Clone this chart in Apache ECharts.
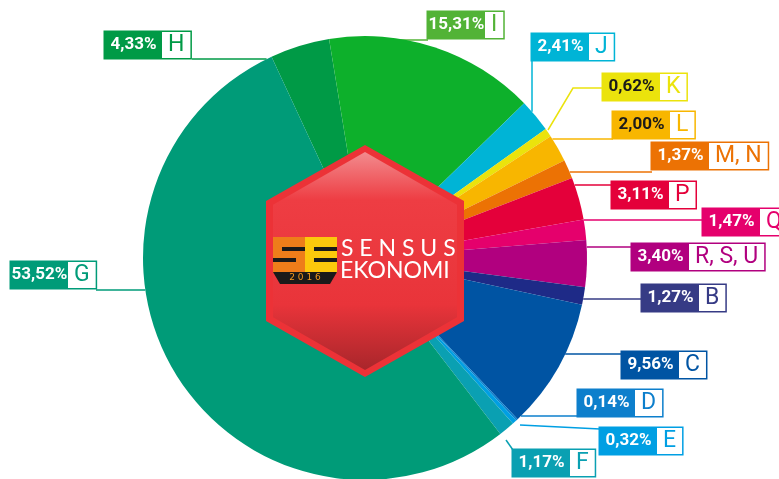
<!DOCTYPE html>
<html>
<head>
<meta charset="utf-8">
<title>Sensus Ekonomi 2016</title>
<script src="https://cdn.jsdelivr.net/npm/echarts@6/dist/echarts.min.js"></script>
<style>
  html, body { margin: 0; padding: 0; background: #fff; }
  #chart { width: 779px; height: 479px; }
</style>
</head>
<body>
<div id="chart"></div>
<script>
// kategori lapangan usaha, searah jarum jam mulai dari H
const categories = ['H', 'I', 'J', 'K', 'L', 'M, N', 'P', 'Q', 'R, S, U', 'B', 'C', 'D', 'E', 'F', 'G']
const shares = [4.33, 15.31, 2.41, 0.62, 2.00, 1.37, 3.11, 1.47, 3.40, 1.27, 9.56, 0.14, 0.32, 1.17, 53.52]

const sliceColors = ['#009a46', '#0db02b', '#00b4d6', '#ebe30c', '#f8b600', '#ec7204', '#e4003a', '#e5006c',
  '#b1007f', '#1e2a87', '#0054a3', '#0d7fcc', '#009fe3', '#0aa0b2', '#009b78']
const boxColors = ['#009a46', '#52b336', '#00b4d6', '#ebe30c', '#f8b600', '#ec7204', '#e4003a', '#e5006c',
  '#b1007f', '#363b85', '#0054a3', '#0d7fcc', '#009fe3', '#0aa0b2', '#009b78']
const darkText = ['K', 'L']

const FONT = 'Roboto, "Noto Sans", sans-serif'
const CX = 365
const CY = 258
const R = 222

// posisi kotak label dan garis penunjuknya
const labelPlaces = [
  { x: 105, y: 32, line: [[192, 59]], to: 'h' },
  { x: 428, y: 12, line: [[428, 40]], to: [338, 40] },
  { x: 532, y: 34, line: [[532, 61]], to: 'v' },
  { x: 603, y: 74, line: [[603, 88], [573, 88]], to: [548, 130] },
  { x: 613, y: 112, line: [[613, 139]], to: 'h' },
  { x: 652, y: 143, line: [[652, 172]], to: 'h' },
  { x: 612, y: 182, line: [[612, 185]], to: 'h' },
  { x: 703, y: 209, line: [[703, 220]], to: 'h' },
  { x: 632, y: 244, line: [[632, 247]], to: 'h' },
  { x: 642, y: 285, line: [[642, 299]], to: 'h' },
  { x: 622, y: 352, line: [[622, 354]], to: 'h' },
  { x: 578, y: 390, line: [[578, 416]], to: 'h' },
  { x: 600, y: 428, line: [[600, 429]], to: [520, 425] },
  { x: 513, y: 450, line: [[513, 450]], to: [506, 440] },
  { x: 11, y: 262, line: [[96, 290]], to: 'h' }
]

function fmt (v) {
  return v.toFixed(2).replace('.', ',') + '%'
}

const seriesData = categories.map(function (name, i) {
  const c = sliceColors[i]
  const b = boxColors[i]
  return {
    name: name,
    value: shares[i],
    itemStyle: { color: c },
    labelLine: { lineStyle: { color: b } },
    label: {
      borderColor: b,
      rich: {
        p: {
          width: 57,
          height: 26,
          lineHeight: 26,
          align: 'center',
          backgroundColor: b,
          color: darkText.indexOf(name) >= 0 ? '#1a1a1a' : '#fff',
          fontFamily: FONT,
          fontWeight: 'bold',
          fontSize: 17
        },
        l: {
          height: 26,
          lineHeight: 26,
          padding: [0, 6, 0, 6],
          color: b,
          fontFamily: FONT,
          fontSize: 23
        }
      }
    }
  }
})

function hexagon (inset) {
  return [[CX, 145 + inset], [464 - inset, 201 + inset * 0.55], [464 - inset, 321 - inset * 0.55],
    [CX, 377 - inset], [266 + inset, 321 - inset * 0.55], [266 + inset, 201 + inset * 0.55]]
}

const chart = echarts.init(document.getElementById('chart'))

const option = {
  backgroundColor: '#fff',
  animation: false,
  series: [
    {
      type: 'pie',
      center: [CX, CY],
      radius: [0, R],
      startAngle: 114.9,
      clockwise: true,
      avoidLabelOverlap: false,
      data: seriesData,
      label: {
        show: true,
        position: 'outside',
        formatter: function (p) {
          return '{p|' + fmt(p.value) + '}{l|' + p.name + '}'
        },
        backgroundColor: '#fff',
        borderWidth: 1.5,
        padding: 0
      },
      labelLine: {
        show: true,
        length: 10,
        length2: 10,
        lineStyle: { width: 1.5 }
      },
      emphasis: { disabled: true },
      labelLayout: function (params) {
        const place = labelPlaces[params.dataIndex]
        const pts = place.line.map(function (p) { return p.slice() })
        const last = pts[pts.length - 1]
        if (place.to === 'h') {
          const dx = Math.sqrt(R * R - Math.pow(last[1] - CY, 2))
          pts.push([last[0] < CX ? CX - dx : CX + dx, last[1]])
        } else if (place.to === 'v') {
          const dy = Math.sqrt(R * R - Math.pow(last[0] - CX, 2))
          pts.push([last[0], last[1] < CY ? CY - dy : CY + dy])
        } else {
          pts.push(place.to)
        }
        return {
          x: place.x,
          y: place.y,
          align: 'left',
          verticalAlign: 'top',
          labelLinePoints: pts
        }
      }
    }
  ],
  graphic: [
    {
      type: 'polygon',
      z: 100,
      shape: { points: hexagon(0) },
      style: { fill: '#ec3237' }
    },
    {
      type: 'polygon',
      z: 101,
      shape: { points: hexagon(7) },
      style: {
        fill: new echarts.graphic.LinearGradient(0, 0, 0, 1, [
          { offset: 0, color: '#f28b8e' },
          { offset: 0.22, color: '#ee3d43' },
          { offset: 0.7, color: '#e9343a' },
          { offset: 1, color: '#a9262b' }
        ])
      }
    },
    // logo SE
    { type: 'rect', z: 102, shape: { x: 273, y: 237, width: 32, height: 36 }, style: { fill: '#ee7d1a' } },
    { type: 'rect', z: 102, shape: { x: 305, y: 237, width: 32, height: 36 }, style: { fill: '#fcc80c' } },
    { type: 'rect', z: 103, shape: { x: 282, y: 247, width: 23, height: 4 }, style: { fill: '#1a1a1a' } },
    { type: 'rect', z: 103, shape: { x: 273, y: 258, width: 23, height: 4 }, style: { fill: '#1a1a1a' } },
    { type: 'rect', z: 103, shape: { x: 314, y: 247, width: 23, height: 4 }, style: { fill: '#1a1a1a' } },
    { type: 'rect', z: 103, shape: { x: 314, y: 258, width: 23, height: 4 }, style: { fill: '#1a1a1a' } },
    {
      type: 'polygon',
      z: 103,
      shape: { points: [[273, 272], [337, 272], [330, 284], [280, 284]] },
      style: { fill: '#1a1a1a' }
    },
    {
      type: 'text',
      z: 104,
      style: {
        x: 305, y: 278, text: '2 0 1 6', fill: '#f39a1e',
        font: '9px "DejaVu Sans", sans-serif', align: 'center', verticalAlign: 'middle'
      }
    },
    {
      type: 'text',
      z: 104,
      style: {
        x: 341, y: 249, text: 'S E N S U S', fill: '#fff',
        font: '23px Lato, "Noto Sans", sans-serif', align: 'left', verticalAlign: 'middle'
      }
    },
    {
      type: 'text',
      z: 104,
      style: {
        x: 340, y: 271, text: 'EKONOMI', fill: '#fff',
        font: '23px Lato, "Noto Sans", sans-serif', align: 'left', verticalAlign: 'middle'
      }
    }
  ]
}

chart.setOption(option)
</script>
</body>
</html>
